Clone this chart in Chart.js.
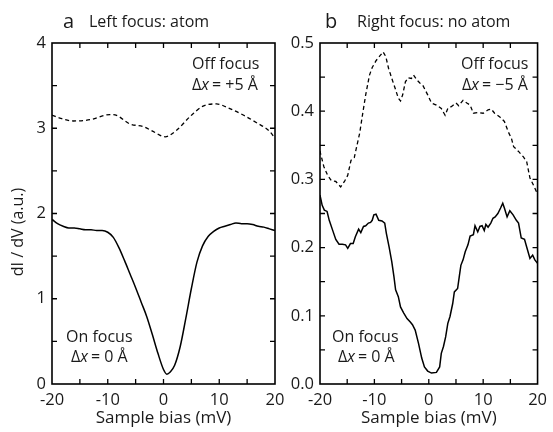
<!DOCTYPE html>
<html>
<head>
<meta charset="utf-8">
<script src="https://cdn.jsdelivr.net/npm/chart.js@4.4.1/dist/chart.umd.min.js"></script>
<style>
  html, body { margin: 0; padding: 0; background: #fff; }
  #wrap { position: relative; width: 553px; height: 432px; }
  canvas { position: absolute; left: 0; top: 0; }
</style>
</head>
<body>
<div id="wrap">
  <canvas id="chartA" width="553" height="432"></canvas>
  <canvas id="chartB" width="553" height="432"></canvas>
</div>
<script>
// Panel a: left focus (atom)
const aOnBias = [-20, -19, -18, -17, -16, -15, -14, -13, -12, -11, -10, -9, -8, -7, -6, -5, -4, -3, -2, -1, 0, 0.6, 1.2, 2, 3, 4, 5, 6, 7, 8, 9, 10, 11, 12, 13, 14, 15, 16, 17, 18, 19, 20];
const aOnValues = [1.93, 1.88, 1.85, 1.83, 1.83, 1.82, 1.81, 1.81, 1.80, 1.80, 1.78, 1.72, 1.60, 1.45, 1.29, 1.13, 0.96, 0.79, 0.58, 0.36, 0.17, 0.115, 0.14, 0.22, 0.44, 0.77, 1.12, 1.43, 1.62, 1.73, 1.79, 1.83, 1.85, 1.87, 1.89, 1.88, 1.88, 1.87, 1.85, 1.84, 1.82, 1.80];
const aOffBias = [-20, -18.6, -16.2, -13.2, -9.6, -8.4, -6.0, -3.6, -1.8, 0.3, 2.4, 4.8, 7.1, 9.5, 11.9, 14.3, 16.7, 19.1, 20];
const aOffValues = [3.155, 3.12, 3.085, 3.10, 3.16, 3.15, 3.05, 3.02, 2.96, 2.90, 2.98, 3.14, 3.26, 3.285, 3.23, 3.155, 3.065, 2.96, 2.88];

// Panel b: right focus (no atom)
const bOnBias = [-20.0, -19.6, -19.2, -18.7, -18.3, -17.7, -17.1, -16.5, -15.9, -15.3, -14.9, -14.4, -13.9, -13.5, -12.9, -12.5, -12.0, -11.6, -11.1, -10.7, -10.4, -10.1, -9.7, -9.2, -8.6, -8.1, -7.8, -7.3, -6.8, -6.4, -6.1, -5.6, -5.2, -4.6, -4.0, -3.4, -3.0, -2.5, -1.9, -1.3, -0.8, -0.2, 0.5, 1.4, 2.0, 2.3, 2.7, 3.1, 3.5, 3.9, 4.4, 4.7, 5.3, 5.6, 5.9, 6.3, 6.7, 7.2, 7.6, 8.2, 8.5, 9.0, 9.4, 9.8, 10.2, 10.5, 10.9, 11.4, 11.8, 12.2, 12.7, 13.2, 13.6, 13.9, 14.4, 14.9, 15.5, 16.1, 16.5, 17.0, 17.6, 18.0, 18.6, 19.1, 19.5, 20.0];
const bOnValues = [0.277, 0.262, 0.255, 0.253, 0.240, 0.226, 0.212, 0.205, 0.205, 0.204, 0.199, 0.206, 0.206, 0.216, 0.227, 0.222, 0.231, 0.232, 0.236, 0.237, 0.240, 0.248, 0.249, 0.240, 0.239, 0.236, 0.221, 0.201, 0.179, 0.157, 0.138, 0.128, 0.113, 0.104, 0.096, 0.091, 0.087, 0.079, 0.060, 0.038, 0.025, 0.019, 0.016, 0.017, 0.025, 0.045, 0.055, 0.069, 0.089, 0.099, 0.118, 0.135, 0.140, 0.157, 0.174, 0.182, 0.194, 0.204, 0.217, 0.219, 0.232, 0.223, 0.231, 0.232, 0.225, 0.234, 0.230, 0.236, 0.243, 0.245, 0.250, 0.258, 0.265, 0.258, 0.245, 0.254, 0.248, 0.240, 0.236, 0.214, 0.212, 0.201, 0.184, 0.189, 0.182, 0.177];
const bOffBias = [-20.0, -19.9, -19.3, -18.6, -17.9, -17.1, -16.2, -15.5, -14.9, -14.3, -13.7, -13.2, -12.7, -12.2, -11.6, -10.9, -10.4, -9.7, -9.0, -8.4, -7.9, -7.4, -6.8, -6.2, -5.6, -5.2, -4.8, -4.3, -3.8, -3.2, -2.8, -2.2, -1.6, -1.1, -0.2, 0.5, 1.4, 2.3, 3.0, 3.5, 4.2, 5.0, 5.5, 6.3, 7.0, 7.6, 8.2, 9.1, 10.0, 10.9, 11.5, 12.1, 13.0, 13.9, 14.6, 15.2, 15.6, 16.5, 17.4, 18.0, 18.6, 19.1, 19.8, 20.0];
const bOffValues = [0.342, 0.338, 0.319, 0.306, 0.298, 0.297, 0.289, 0.297, 0.306, 0.328, 0.332, 0.350, 0.368, 0.394, 0.424, 0.453, 0.464, 0.474, 0.481, 0.487, 0.480, 0.463, 0.448, 0.434, 0.419, 0.415, 0.424, 0.443, 0.449, 0.448, 0.453, 0.446, 0.441, 0.438, 0.424, 0.412, 0.409, 0.404, 0.394, 0.404, 0.407, 0.412, 0.408, 0.416, 0.412, 0.409, 0.397, 0.398, 0.397, 0.402, 0.403, 0.397, 0.392, 0.385, 0.370, 0.360, 0.348, 0.341, 0.333, 0.326, 0.302, 0.294, 0.282, 0.280];

const FONT = "'Open Sans', 'DejaVu Sans', sans-serif";
const INK = '#1a1a1a';

const toPoints = (xs, ys) => xs.map((x, i) => ({ x, y: ys[i] }));

// box frame with inward ticks on all four sides
const frameTicks = {
    id: 'frameTicks',
    afterDraw(chart, args, opts) {
        const { ctx, chartArea: a, scales: { x, y } } = chart;
        ctx.save();
        ctx.strokeStyle = '#000';
        ctx.lineWidth = 1.6;
        ctx.strokeRect(a.left, a.top, a.right - a.left, a.bottom - a.top);
        ctx.lineWidth = 1.3;
        ctx.beginPath();
        const nx = Math.round((x.max - x.min) / opts.xMinor);
        for (let i = 1; i < nx; i++) {
            const px = x.getPixelForValue(x.min + i * opts.xMinor);
            ctx.moveTo(px, a.bottom); ctx.lineTo(px, a.bottom - 5);
            ctx.moveTo(px, a.top); ctx.lineTo(px, a.top + 5);
        }
        const ny = Math.round((y.max - y.min) / opts.yMinor);
        for (let i = 1; i < ny; i++) {
            const py = y.getPixelForValue(y.min + i * opts.yMinor);
            ctx.moveTo(a.left, py); ctx.lineTo(a.left + 5, py);
            ctx.moveTo(a.right, py); ctx.lineTo(a.right - 5, py);
        }
        ctx.stroke();
        ctx.restore();
    }
};

// "Δx = ..." with an italic x
function drawDelta(ctx, x, y, rest) {
    ctx.font = `16px ${FONT}`;
    ctx.fillText('Δ', x, y);
    x += ctx.measureText('Δ').width;
    ctx.font = `italic 16px ${FONT}`;
    ctx.fillText('x', x, y);
    x += ctx.measureText('x').width + 3;
    ctx.font = `16px ${FONT}`;
    ctx.fillText(rest, x, y);
}

const labels = {
    id: 'labels',
    afterDraw(chart, args, o) {
        const { ctx, chartArea: a } = chart;
        ctx.save();
        ctx.fillStyle = INK;
        ctx.textBaseline = 'alphabetic';
        ctx.textAlign = 'left';
        ctx.font = `20px ${FONT}`;
        ctx.fillText(o.letter, a.left + o.letterDx, 28);
        ctx.font = `16px ${FONT}`;
        ctx.fillText(o.title, a.left + o.titleDx, 27);
        ctx.fillText('Off focus', o.off[0], 69);
        drawDelta(ctx, o.off[1], 90, o.offShift);
        ctx.font = `16px ${FONT}`;
        ctx.fillText('On focus', o.on[0], 342);
        drawDelta(ctx, o.on[1], 362, '= 0 Å');
        ctx.textAlign = 'center';
        ctx.font = `17px ${FONT}`;
        ctx.fillText('Sample bias (mV)', (a.left + a.right) / 2, 423);
        if (o.yTitle) {
            ctx.font = `16px ${FONT}`;
            ctx.translate(23, 232);
            ctx.rotate(-Math.PI / 2);
            ctx.fillText(o.yTitle, 0, 0);
        }
        ctx.restore();
    }
};

function makeChart(id, cfg) {
    const line = { borderColor: '#000', pointRadius: 0, tension: cfg.tension, fill: false,
                   cubicInterpolationMode: cfg.smooth ? 'monotone' : 'default' };
    return new Chart(document.getElementById(id), {
        type: 'line',
        data: {
            datasets: [
                { ...line, data: toPoints(cfg.onBias, cfg.onValues), borderWidth: 1.5 },
                { ...line, data: toPoints(cfg.offBias, cfg.offValues), borderWidth: 1.3, borderDash: [4, 3] }
            ]
        },
        options: {
            responsive: false,
            animation: false,
            devicePixelRatio: 1,
            layout: { padding: { left: cfg.padLeft, right: cfg.padRight, top: 43, bottom: 0 } },
            plugins: {
                legend: { display: false },
                tooltip: { enabled: false },
                frameTicks: { xMinor: 5, yMinor: cfg.yMinor },
                labels: cfg.labels
            },
            scales: {
                x: {
                    type: 'linear',
                    min: -20,
                    max: 20,
                    grid: { display: false, drawTicks: false },
                    border: { display: false },
                    afterFit: s => { s.height = 48; },
                    ticks: {
                        stepSize: 10,
                        maxRotation: 0,
                        padding: 6,
                        color: INK,
                        font: { family: FONT, size: 16.5 },
                        callback: v => String(v)
                    }
                },
                y: {
                    min: cfg.yMin,
                    max: cfg.yMax,
                    grid: { display: false, drawTicks: false },
                    border: { display: false },
                    afterFit: s => { s.width = cfg.yWidth; },
                    ticks: {
                        stepSize: cfg.yStep,
                        padding: 6,
                        color: INK,
                        font: { family: FONT, size: 16.5 },
                        callback: v => v.toFixed(cfg.yDigits)
                    }
                }
            }
        },
        plugins: [frameTicks, labels]
    });
}

makeChart('chartA', {
    onBias: aOnBias, onValues: aOnValues, offBias: aOffBias, offValues: aOffValues,
    tension: 0.4, smooth: true,
    padLeft: 0, padRight: 278, yWidth: 52,
    yMin: 0, yMax: 4, yStep: 1, yMinor: 0.5, yDigits: 0,
    labels: { letter: 'a', letterDx: 11, title: 'Left focus: atom', titleDx: 37,
              off: [192, 192], offShift: '= +5 Å', on: [66, 71], yTitle: 'dI / dV (a.u.)' }
});

makeChart('chartB', {
    onBias: bOnBias, onValues: bOnValues, offBias: bOffBias, offValues: bOffValues,
    tension: 0, smooth: false,
    padLeft: 283, padRight: 9, yWidth: 37,
    yMin: 0, yMax: 0.5, yStep: 0.1, yMinor: 0.05, yDigits: 1,
    labels: { letter: 'b', letterDx: 5, title: 'Right focus: no atom', titleDx: 37,
              off: [461, 462], offShift: '= −5 Å', on: [332, 338], yTitle: null }
});
</script>
</body>
</html>
